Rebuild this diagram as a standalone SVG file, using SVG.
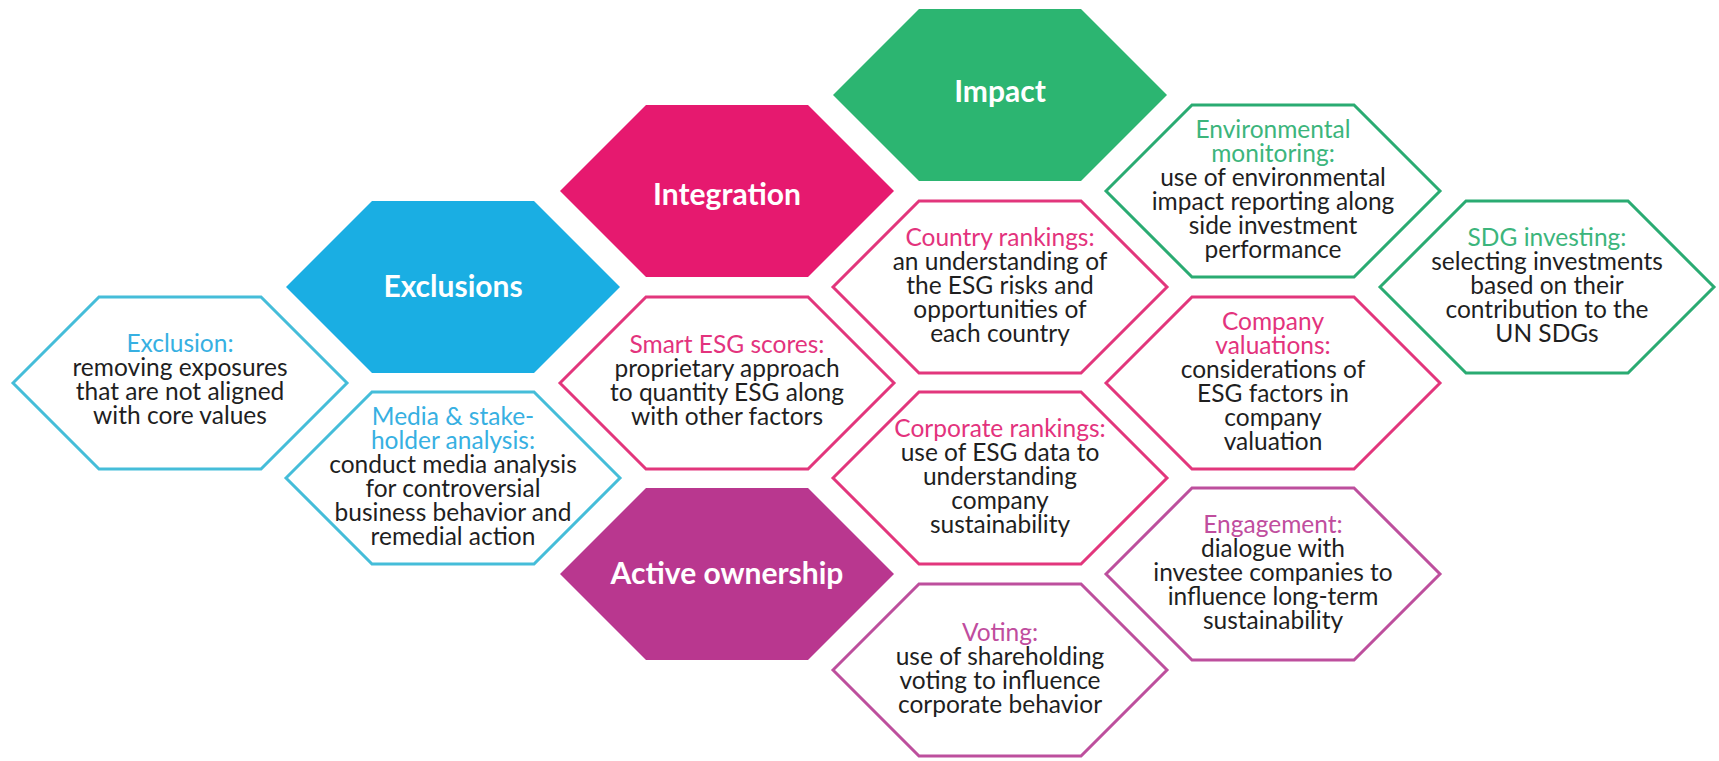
<svg xmlns="http://www.w3.org/2000/svg" width="1719" height="761" viewBox="0 0 1719 761">
<defs>
<style>
.hex{stroke-width:3;stroke-linejoin:miter}
.ob{fill:#fff;stroke:#45bdd9}
.op{fill:#fff;stroke:#e2367c}
.om{fill:#fff;stroke:#bd4f9d}
.og{fill:#fff;stroke:#2aab72}
.fb{fill:#1aaee3}
.fp{fill:#e6196f}
.fg{fill:#2cb571}
.fm{fill:#b9378f}
.title{font-family:Lato,"Open Sans",sans-serif;font-size:30px;font-weight:700;fill:#fff;text-anchor:middle}
.body{font-family:Lato,"Open Sans",sans-serif;font-size:24.5px;fill:#1f1f1f;text-anchor:middle}
.hb{fill:#37b0e2}
.hp{fill:#e3337d}
.hm{fill:#c04d9e}
.hg{fill:#3cb57c}
</style>
<polygon id="hx" points="0,0 86,-86 248,-86 334,0 248,86 86,86"/>
</defs>
<rect width="1719" height="761" fill="#fff"/>
<g id="connectors"></g>

<g id="impact">
<use href="#hx" x="833" y="95" class="fg"/>
<text class="title" x="1000" y="102">Impact</text>
</g>
<g id="integration">
<use href="#hx" x="560" y="191" class="fp"/>
<text class="title" x="727" y="205">Integration</text>
</g>
<g id="exclusions">
<use href="#hx" x="286" y="287" class="fb"/>
<text class="title" x="453" y="297">Exclusions</text>
</g>
<g id="active-ownership">
<use href="#hx" x="560" y="574" class="fm"/>
<text class="title" x="727" y="584">Active ownership</text>
</g>

<g id="exclusion">
<use href="#hx" x="13" y="383" class="hex ob"/>
<text class="body"><tspan x="180" y="352" class="hb">Exclusion:</tspan><tspan x="180" y="376">removing exposures</tspan><tspan x="180" y="400">that are not aligned</tspan><tspan x="180" y="424">with core values</tspan></text>
</g>
<g id="media">
<use href="#hx" x="286" y="478" class="hex ob"/>
<text class="body"><tspan x="453" y="425" class="hb">Media &amp; stake-</tspan><tspan x="453" y="449" class="hb">holder analysis:</tspan><tspan x="453" y="473">conduct media analysis</tspan><tspan x="453" y="497">for controversial</tspan><tspan x="453" y="521">business behavior and</tspan><tspan x="453" y="545">remedial action</tspan></text>
</g>
<g id="smart-esg">
<use href="#hx" x="560" y="383" class="hex op"/>
<text class="body"><tspan x="727" y="353" class="hp">Smart ESG scores:</tspan><tspan x="727" y="377">proprietary approach</tspan><tspan x="727" y="401">to quantity ESG along</tspan><tspan x="727" y="425">with other factors</tspan></text>
</g>
<g id="country-rankings">
<use href="#hx" x="833" y="287" class="hex op"/>
<text class="body"><tspan x="1000" y="246" class="hp">Country rankings:</tspan><tspan x="1000" y="270">an understanding of</tspan><tspan x="1000" y="294">the ESG risks and</tspan><tspan x="1000" y="318">opportunities of</tspan><tspan x="1000" y="342">each country</tspan></text>
</g>
<g id="corporate-rankings">
<use href="#hx" x="833" y="478" class="hex op"/>
<text class="body"><tspan x="1000" y="437" class="hp">Corporate rankings:</tspan><tspan x="1000" y="461">use of ESG data to</tspan><tspan x="1000" y="485">understanding</tspan><tspan x="1000" y="509">company</tspan><tspan x="1000" y="533">sustainability</tspan></text>
</g>
<g id="voting">
<use href="#hx" x="833" y="670" class="hex om"/>
<text class="body"><tspan x="1000" y="641" class="hm">Voting:</tspan><tspan x="1000" y="665">use of shareholding</tspan><tspan x="1000" y="689">voting to influence</tspan><tspan x="1000" y="713">corporate behavior</tspan></text>
</g>
<g id="environmental-monitoring">
<use href="#hx" x="1106" y="191" class="hex og"/>
<text class="body"><tspan x="1273" y="138" class="hg">Environmental</tspan><tspan x="1273" y="162" class="hg">monitoring:</tspan><tspan x="1273" y="186">use of environmental</tspan><tspan x="1273" y="210">impact reporting along</tspan><tspan x="1273" y="234">side investment</tspan><tspan x="1273" y="258">performance</tspan></text>
</g>
<g id="company-valuations">
<use href="#hx" x="1106" y="383" class="hex op"/>
<text class="body"><tspan x="1273" y="330" class="hp">Company</tspan><tspan x="1273" y="354" class="hp">valuations:</tspan><tspan x="1273" y="378">considerations of</tspan><tspan x="1273" y="402">ESG factors in</tspan><tspan x="1273" y="426">company</tspan><tspan x="1273" y="450">valuation</tspan></text>
</g>
<g id="engagement">
<use href="#hx" x="1106" y="574" class="hex om"/>
<text class="body"><tspan x="1273" y="533" class="hm">Engagement:</tspan><tspan x="1273" y="557">dialogue with</tspan><tspan x="1273" y="581">investee companies to</tspan><tspan x="1273" y="605">influence long-term</tspan><tspan x="1273" y="629">sustainability</tspan></text>
</g>
<g id="sdg-investing">
<use href="#hx" x="1380" y="287" class="hex og"/>
<text class="body"><tspan x="1547" y="246" class="hg">SDG investing:</tspan><tspan x="1547" y="270">selecting investments</tspan><tspan x="1547" y="294">based on their</tspan><tspan x="1547" y="318">contribution to the</tspan><tspan x="1547" y="342">UN SDGs</tspan></text>
</g>
</svg>
